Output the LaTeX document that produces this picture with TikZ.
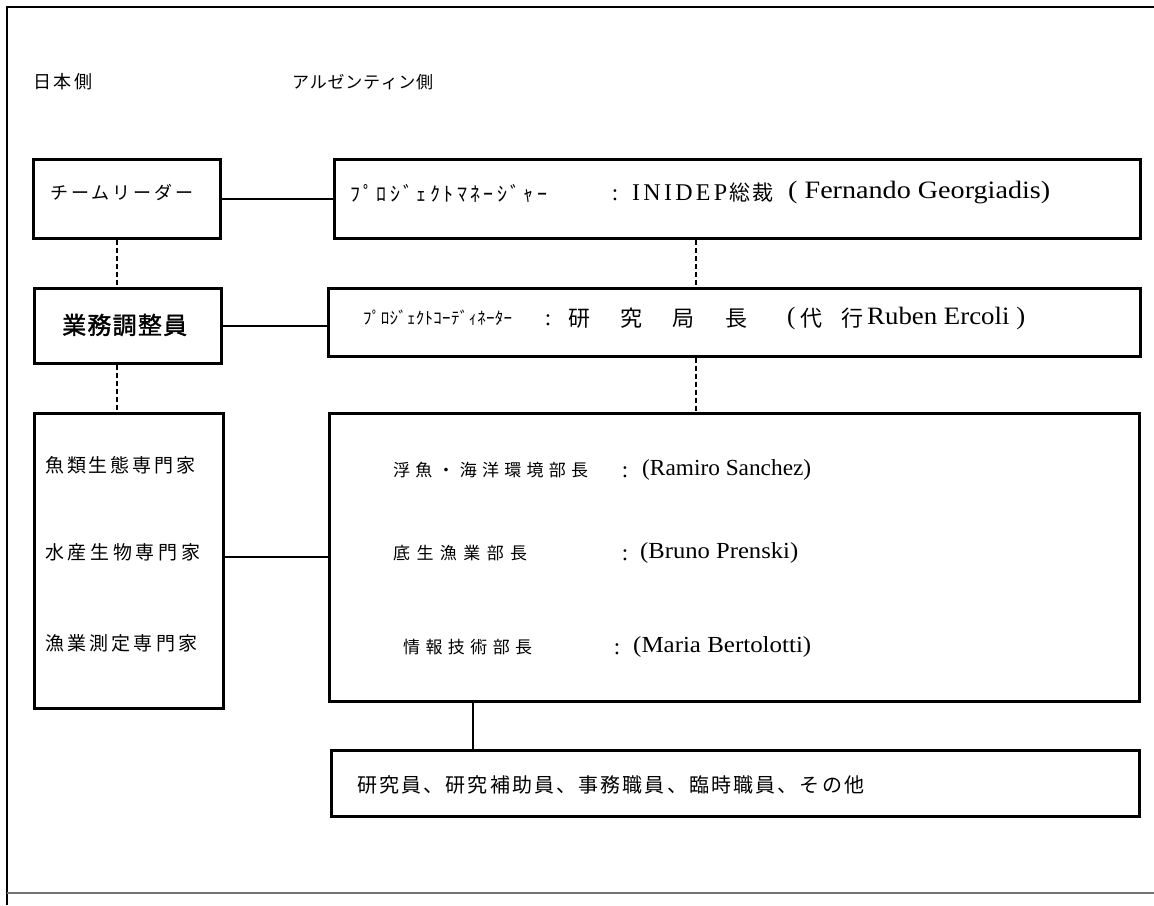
\documentclass[tikz,border=0pt]{standalone}
\usepackage{fontspec}
\usepackage{graphicx}
\setmainfont{Liberation Serif}
\newfontfamily\jp{Noto Sans CJK JP}
\newfontfamily\jpb[FakeBold=1.5]{Noto Sans CJK JP}
\makeatletter
\newcommand\spr[2]{\makebox[#1][s]{\@tfor\sprtok:=#2\do{\sprtok\hfil}\unskip}}
\makeatother
\newcommand\fs[1]{\fontsize{#1pt}{#1pt}\selectfont}
\newcommand\wfit[2]{\resizebox{#1}{\height}{#2}}
\tikzset{
  box/.style={draw, line width=2.6pt, inner sep=0pt, anchor=north west},
  conn/.style={line width=2.4pt},
  dashconn/.style={line width=2.4pt, dash pattern=on 5pt off 3pt},
  txt/.style={inner sep=0pt, anchor=west},
  colon/.style={inner sep=0pt, anchor=center, font=\fs{23}},
  frame/.style={line width=2.6pt},
}
\begin{document}
\begin{tikzpicture}[x=1pt,y=-1pt]
\fill[white] (0,0) rectangle (1154,905);
\useasboundingbox (0,0) rectangle (1154,905);
% outer frame
\draw[frame] (7,905) -- (7,7) -- (1154,7);
\draw[line width=1.5pt, black!55] (7,893) -- (1154,893);

% headers
\node[txt] (hj) at (33,82) {\jp\fs{18}\spr{59pt}{日本側}};
\node[txt] (ha) at (292,82) {\jp\fs{17}\spr{141pt}{アルゼンティン側}};

% Japanese side boxes
\node[box, minimum width=187pt, minimum height=79pt] (tl) at (32,158) {};
\node[txt] (tlt) at (50,192) {\jp\fs{18}\spr{143pt}{チームリーダー}};
\node[box, minimum width=187pt, minimum height=75pt] (cc) at (33,287) {};
\node[txt] (cct) at (62,325) {\jpb\fs{24}\spr{125pt}{業務調整員}};
\node[box, minimum width=189pt, minimum height=295pt] (sp) at (33,412) {};
\node[txt] (sp1) at (45,465) {\jp\fs{19}\spr{150pt}{魚類生態専門家}};
\node[txt] (sp2) at (45,552) {\jp\fs{19}\spr{155pt}{水産生物専門家}};
\node[txt] (sp3) at (45,643) {\jp\fs{19}\spr{152pt}{漁業測定専門家}};

% Argentine side boxes
\node[box, minimum width=806pt, minimum height=79pt] (pm) at (333,158) {};
\node[txt] (pm1) at (350,193) {\jp\fs{20}\spr{197pt}{ﾌﾟﾛｼﾞｪｸﾄﾏﾈｰｼﾞｬｰ}};
\node[colon] (pmc) at (615,195) {:};
\node[txt] (pm2) at (632,193) {\fs{24}\spr{95pt}{INIDEP}};
\node[txt] (pm3) at (729,193) {\jp\fs{21}\spr{44pt}{総裁}};
\node[txt] (pm4) at (788,193) {\fs{25}\wfit{262pt}{( Fernando Georgiadis)}};

\node[box, minimum width=812pt, minimum height=68pt] (pc) at (327,287) {};
\node[txt] (pc1) at (363,318) {\jp\fs{17}\spr{149pt}{ﾌﾟﾛｼﾞｪｸﾄｺｰﾃﾞｨﾈｰﾀｰ}};
\node[colon] (pcc) at (548,320) {:};
\node[txt] (pc2) at (568,318) {\jp\fs{22}\spr{179pt}{研究局長}};
\node[txt] (pc3) at (787,318) {\fs{25}(};
\node[txt] (pc4) at (800,318) {\jp\fs{22}\spr{63pt}{代行}};
\node[txt] (pc5) at (867,318) {\fs{25}\wfit{158pt}{Ruben Ercoli )}};

\node[box, minimum width=810pt, minimum height=288pt] (dh) at (328,412) {};
\node[txt] (dh1) at (393,470) {\jp\fs{17}\spr{195pt}{浮魚・海洋環境部長}};
\node[colon] (dhc1) at (625,472) {:};
\node[txt] (dh1n) at (642,470) {\fs{23}\wfit{169pt}{(Ramiro Sanchez)}};
\node[txt] (dh2) at (393,553) {\jp\fs{17}\spr{134pt}{底生漁業部長}};
\node[colon] (dhc2) at (625,555) {:};
\node[txt] (dh2n) at (640,553) {\fs{23}\wfit{158pt}{(Bruno Prenski)}};
\node[txt] (dh3) at (403,647) {\jp\fs{17}\spr{129pt}{情報技術部長}};
\node[colon] (dhc3) at (617,649) {:};
\node[txt] (dh3n) at (633,647) {\fs{23}\wfit{178pt}{(Maria Bertolotti)}};

\node[box, minimum width=808pt, minimum height=66pt] (st) at (330,749) {};
\node[txt] (st1) at (357,785) {\jp\fs{20}\spr{507pt}{研究員、研究補助員、事務職員、臨時職員、その他}};

% connectors
\draw[conn] (tl.east) -- (tl.east -| pm.west);
\draw[conn] (cc.east) -- (cc.east -| pc.west);
\draw[conn] ([yshift=4pt]sp.east) -- ([yshift=4pt]sp.east -| dh.west);
\draw[dashconn] ([xshift=85pt]tl.south west) -- ([xshift=85pt]tl.south west |- cc.north);
\draw[dashconn] ([xshift=84pt]cc.south west) -- ([xshift=84pt]cc.south west |- sp.north);
\draw[dashconn] ([xshift=363pt]pm.south west) -- ([xshift=363pt]pm.south west |- pc.north);
\draw[dashconn] ([xshift=369pt]pc.south west) -- ([xshift=369pt]pc.south west |- dh.north);
\draw[conn] ([xshift=145pt]dh.south west) -- ([xshift=145pt]dh.south west |- st.north);
\end{tikzpicture}
\end{document}
